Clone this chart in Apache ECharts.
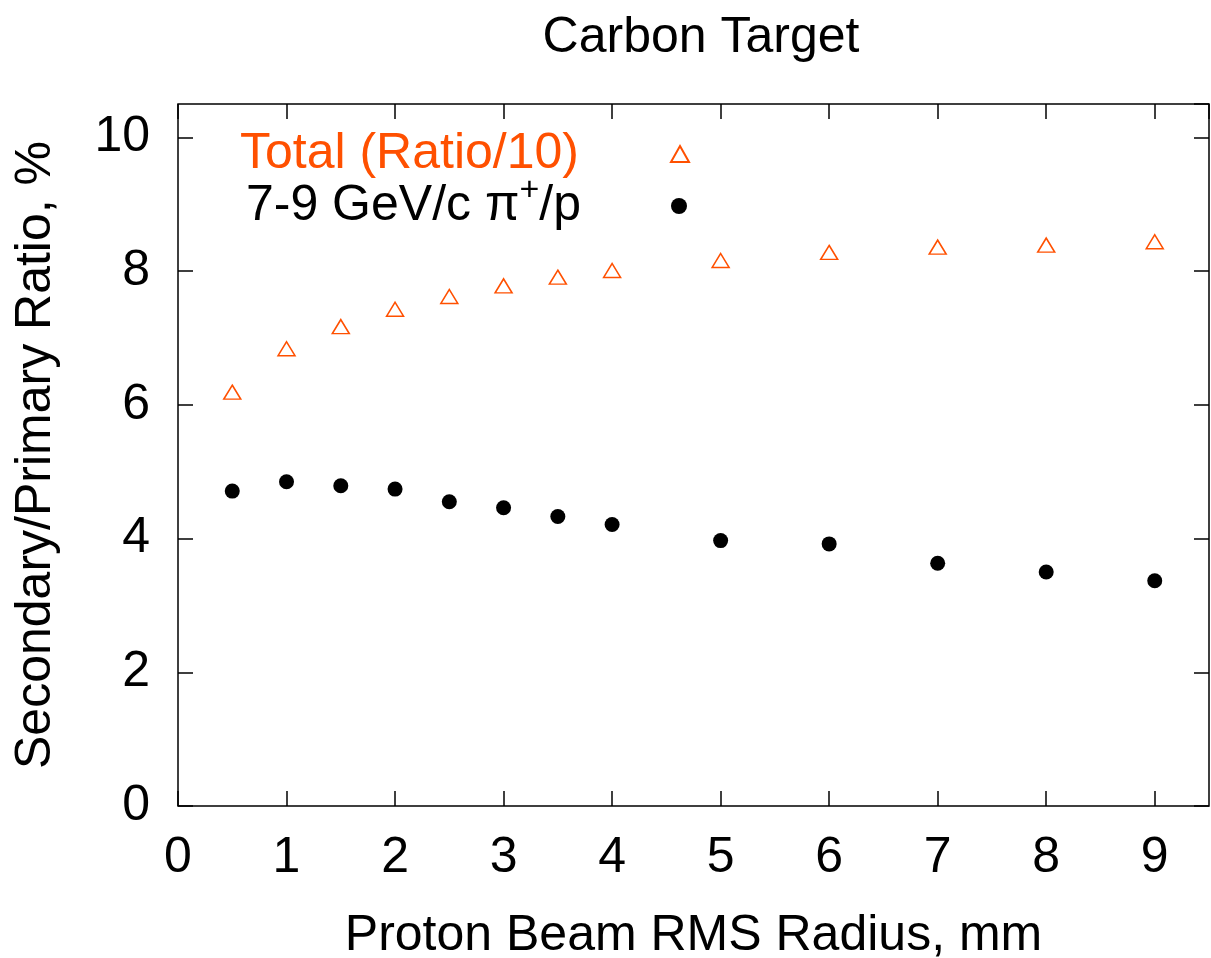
<!DOCTYPE html>
<html>
<head>
<meta charset="utf-8">
<script src="https://cdn.jsdelivr.net/npm/echarts@6/dist/echarts.min.js"></script>
<style>
html,body{margin:0;padding:0;background:#fff;}
#c{width:1211px;height:958px;}
</style>
</head>
<body>
<div id="c"></div>
<script>
const radius = [0.5, 1, 1.5, 2, 2.5, 3, 3.5, 4, 5, 6, 7, 8, 9];
const totalRatio = [6.16, 6.81, 7.14, 7.40, 7.59, 7.75, 7.88, 7.98, 8.13, 8.25, 8.33, 8.36, 8.41];
const pionRatio = [4.71, 4.85, 4.79, 4.74, 4.55, 4.46, 4.33, 4.21, 3.97, 3.92, 3.63, 3.50, 3.37];
const xTicks = [0, 1, 2, 3, 4, 5, 6, 7, 8, 9];
const yTicks = [0, 2, 4, 6, 8, 10];

const ORANGE = '#ff5000';
const FONT = 'Liberation Sans, Arial, sans-serif';
const FS = 50;
const chart = echarts.init(document.getElementById('c'));

const pairs = (xs, ys) => xs.map((x, i) => [x, ys[i]]);

const axisCommon = {
  axisLine: { show: false, onZero: false },
  splitLine: { show: false },
  axisTick: { show: true, inside: true, length: 15, lineStyle: { color: '#000', width: 1.5 } }
};

chart.setOption({
  animation: false,
  backgroundColor: '#fff',
  title: {
    text: 'Carbon Target',
    left: 696, top: 8, textAlign: 'center',
    textStyle: { fontFamily: FONT, fontSize: FS, fontWeight: 'normal', color: '#000' }
  },
  grid: {
    left: 178, right: 2, top: 104, bottom: 152,
    outerBoundsMode: 'none',
    containLabel: false,
    show: true, borderColor: '#000', borderWidth: 1.5, backgroundColor: 'transparent'
  },
  legend: [
    {
      data: ['Total (Ratio/10)'],
      orient: 'vertical', align: 'right',
      right: 1211 - 688 - 7, top: 124,
      itemWidth: 18, itemHeight: 16,
      formatter: n => '{t|' + n + '}{g|}',
      textStyle: {
        rich: {
          t: { fontFamily: FONT, fontSize: FS, lineHeight: 50, color: ORANGE },
          g: { width: 87 }
        }
      }
    },
    {
      data: ['7-9 GeV/c π+/p'],
      orient: 'vertical', align: 'right',
      right: 1211 - 688 - 4, top: 169,
      itemWidth: 18, itemHeight: 16,
      formatter: () => '{t|7-9 GeV/c π}{s|+}{t|/p}{g|}',
      textStyle: {
        rich: {
          t: { fontFamily: FONT, fontSize: FS, lineHeight: 50, color: '#000' },
          s: { fontFamily: FONT, fontSize: 34, lineHeight: 34, color: '#000', padding: [0, 0, 30, 0] },
          g: { width: 84 }
        }
      }
    }
  ],
  xAxis: [
    Object.assign({}, axisCommon, {
      type: 'value', min: 0, max: 9.5, interval: 1, position: 'bottom',
      name: 'Proton Beam RMS Radius, mm', nameLocation: 'middle', nameGap: 105,
      nameTextStyle: { fontFamily: FONT, fontSize: FS, color: '#000' },
      axisLabel: {
        show: true, margin: 27, fontFamily: FONT, fontSize: FS, color: '#000',
        showMaxLabel: false,
        formatter: v => xTicks.includes(v) ? String(v) : ''
      }
    }),
    Object.assign({}, axisCommon, {
      type: 'value', min: 0, max: 9.5, interval: 1, position: 'top',
      axisLabel: { show: false }
    })
  ],
  yAxis: [
    Object.assign({}, axisCommon, {
      type: 'value', min: 0, max: 10.5, interval: 2, position: 'left',
      name: 'Secondary/Primary Ratio, %', nameLocation: 'middle', nameGap: 117,
      nameTextStyle: { fontFamily: FONT, fontSize: FS, color: '#000' },
      axisLabel: {
        show: true, margin: 28, fontFamily: FONT, fontSize: FS, color: '#000',
        showMaxLabel: false,
        formatter: v => yTicks.includes(v) ? String(v) : ''
      }
    }),
    Object.assign({}, axisCommon, {
      type: 'value', min: 0, max: 10.5, interval: 2, position: 'right',
      axisLabel: { show: false }
    })
  ],
  series: [
    {
      name: 'Total (Ratio/10)',
      type: 'scatter',
      xAxisIndex: 0, yAxisIndex: 0,
      data: pairs(radius, totalRatio),
      symbol: 'triangle',
      symbolSize: [17, 14],
      symbolOffset: [0, -2],
      itemStyle: { color: '#fff', borderColor: ORANGE, borderWidth: 1.5, opacity: 1 }
    },
    {
      name: '7-9 GeV/c π+/p',
      type: 'scatter',
      xAxisIndex: 0, yAxisIndex: 0,
      data: pairs(radius, pionRatio),
      symbol: 'circle',
      symbolSize: 15,
      itemStyle: { color: '#000', opacity: 1 }
    }
  ]
});
</script>
</body>
</html>
